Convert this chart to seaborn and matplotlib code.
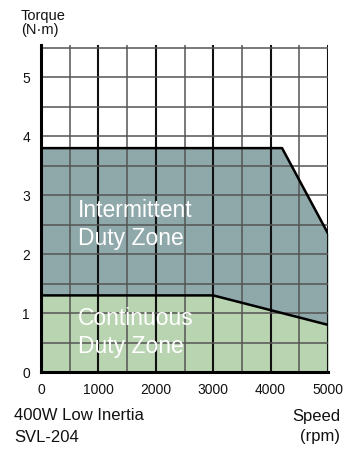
import matplotlib
matplotlib.use("Agg")
import matplotlib.pyplot as plt
import seaborn as sns
import pandas as pd
import numpy as np

# Speed-torque characteristic, 400W low inertia servo motor
speed_intermittent = [0, 4200, 5000]
torque_intermittent = [3.8, 3.8, 2.35]
speed_continuous = [0, 3000, 5000]
torque_continuous = [1.3, 1.3, 0.8]

x_ticks = [0, 1000, 2000, 3000, 4000, 5000]
y_ticks = [0, 1, 2, 3, 4, 5]

sns.set_theme(style="white")
plt.rcParams["font.family"] = ["Liberation Sans", "DejaVu Sans"]

W, H = 343, 449
fig = plt.figure(figsize=(W / 100, H / 100), dpi=100)
ax = fig.add_axes([41 / W, 77 / H, 287 / W, 327 / H])

inter_color = "#8fa8aa"
cont_color = "#b9d4b1"

df_i = pd.DataFrame({"speed": speed_intermittent, "torque": torque_intermittent})
df_c = pd.DataFrame({"speed": speed_continuous, "torque": torque_continuous})

ax.fill_between(df_i["speed"], 0, df_i["torque"], color=inter_color, lw=0, zorder=1)
ax.fill_between(df_c["speed"], 0, df_c["torque"], color=cont_color, lw=0, zorder=1.5)

# grid: gray every 500 rpm / 0.5 N·m, black every 1000 rpm
for xv in np.arange(500, 5001, 500):
    major = xv % 1000 == 0
    ax.axvline(xv, color="#111111" if major else "#555555",
               lw=1.5 if major else 1.1, zorder=2)
for yv in np.arange(0.5, 5.51, 0.5):
    ax.axhline(yv, color="#555555", lw=1.1, zorder=2)

sns.lineplot(data=df_i, x="speed", y="torque", color="black", lw=1.8, ax=ax, zorder=3)
sns.lineplot(data=df_c, x="speed", y="torque", color="black", lw=1.8, ax=ax, zorder=3)

ax.set_xlim(0, 5000)
ax.set_ylim(0, 5.55)
ax.set_xticks(x_ticks)
ax.set_yticks(y_ticks)
ax.set_xticklabels([str(v) for v in x_ticks], fontsize=10, color="#111111")
ax.set_yticklabels([str(v) for v in y_ticks], fontsize=10, color="#111111")
ax.tick_params(axis="both", length=0, pad=8)
ax.set_xlabel("")
ax.set_ylabel("")

for side in ["top", "right"]:
    ax.spines[side].set_visible(False)
for side in ["left", "bottom"]:
    ax.spines[side].set_color("black")
    ax.spines[side].set_linewidth(2.2)
    ax.spines[side].set_zorder(4)

zone_kw = dict(color="white", fontsize=16.5, ha="left", va="baseline", zorder=5)
ax.text(645, 2.63, "Intermittent", **zone_kw)
ax.text(645, 2.15, "Duty Zone", **zone_kw)
ax.text(645, 0.80, "Continuous", **zone_kw)
ax.text(645, 0.32, "Duty Zone", **zone_kw)


def label(px, py, s, size, ha="left"):
    fig.text(px / W, 1 - py / H, s, fontsize=size, ha=ha, va="baseline", color="#111111")


label(21, 20, "Torque", 10.5)
label(21, 34, "(N·m)", 10.5)
label(14, 420, "400W Low Inertia", 12)
label(14, 442, "SVL-204", 12)
label(340, 421, "Speed", 12, ha="right")
label(340, 441, "(rpm)", 12, ha="right")

fig.savefig("out.png", dpi=100)
